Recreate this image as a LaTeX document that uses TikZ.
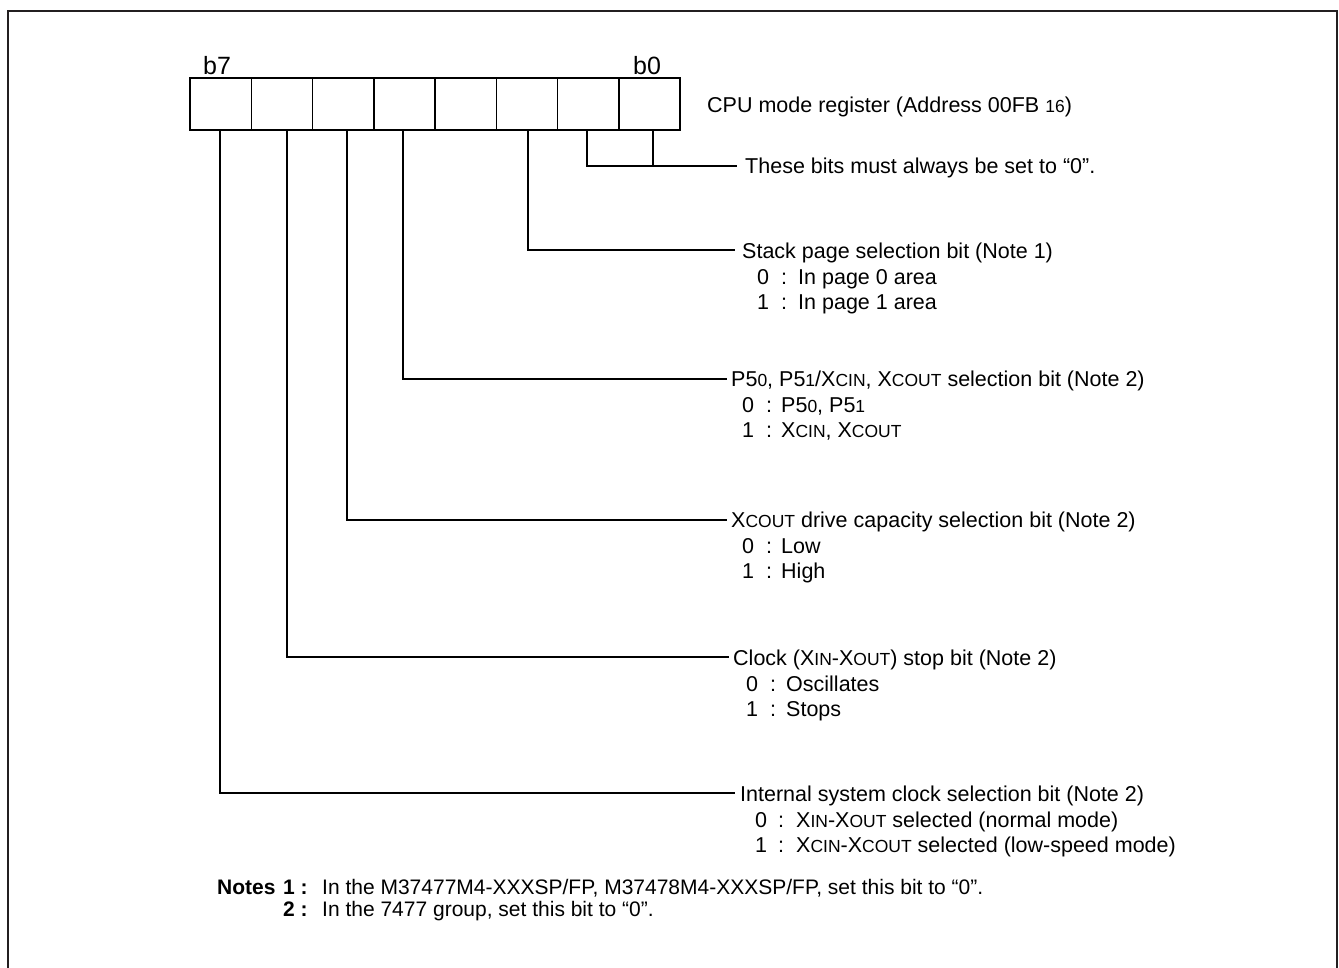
\documentclass[tikz,border=0pt]{standalone}
\usepackage{fontspec}
\setmainfont{Liberation Sans}
\newcommand\body{\fontsize{21.5}{25.5}\selectfont}
\newcommand\smc[1]{{\fontsize{17.5}{17.5}\selectfont #1}}
\definecolor{framecol}{HTML}{231F20}
\tikzset{
  cell/.style={draw, line width=1.5pt, minimum width=61.25pt, minimum height=52pt, inner sep=0pt, outer sep=0pt},
  lbl/.style={anchor=base west, inner sep=0pt, font=\body},
  bitlbl/.style={anchor=base west, inner sep=0pt, font=\fontsize{25}{25}\selectfont},
  notelbl/.style={anchor=base west, inner sep=0pt, font=\fontsize{21}{24}\selectfont},
  conn/.style={line width=1.4pt},
}
\begin{document}
\begin{tikzpicture}[x=1pt,y=-1pt]
\useasboundingbox (0,0) rectangle (1339,967);
% frame
\draw[line width=2pt, color=framecol] (8,990) -- (8,11) -- (1337,11) -- (1337,990);
% register cells
\foreach \i/\n in {0/7,1/6,2/5,3/4,4/3,5/2,6/1,7/0} {
  \node[cell] (c\n) at ({190+61.25*\i+30.625},104) {};
}
\node[bitlbl] (b7) at (203,74) {b7};
\node[bitlbl] (b0) at (633,74) {b0};
\node[lbl] (title) at (707,112) {CPU mode register (Address 00FB \smc{16})};
% connector start points on the bottom of the cells
\coordinate (s0) at (653,130);
\coordinate (s1) at (587,130);
\coordinate (s2) at (528,130);
\coordinate (s4) at (403,130);
\coordinate (s5) at (347,130);
\coordinate (s6) at (287,130);
\coordinate (s7) at (220,130);
% end points
\coordinate (e0) at (737,166);
\coordinate (e2) at (735,250);
\coordinate (e4) at (727,379);
\coordinate (e5) at (727,520);
\coordinate (e6) at (729,657);
\coordinate (e7) at (735,793);
% labels
\node[lbl] (t0) at (745,173.5) {These bits must always be set to “0”.};
\node[lbl] (t2) at (742,258) {Stack page selection bit (Note 1)};
\node[lbl] (t2a) at (757,284) {0}; \node[lbl] (t2ac) at (781,284) {:}; \node[lbl] (t2at) at (798,284) {In page 0 area};
\node[lbl] (t2b) at (757,309) {1}; \node[lbl] (t2bc) at (781,309) {:}; \node[lbl] (t2bt) at (798,309) {In page 1 area};
\node[lbl] (t4) at (731,386.5) {P5\smc{0}, P5\smc{1}/X\smc{CIN}, X\smc{COUT} selection bit (Note 2)};
\node[lbl] (t4a) at (742,412) {0}; \node[lbl] (t4ac) at (766,412) {:}; \node[lbl] (t4at) at (781,412) {P5\smc{0}, P5\smc{1}};
\node[lbl] (t4b) at (742,437) {1}; \node[lbl] (t4bc) at (766,437) {:}; \node[lbl] (t4bt) at (781,437) {X\smc{CIN}, X\smc{COUT}};
\node[lbl] (t5) at (731,527.5) {X\smc{COUT} drive capacity selection bit (Note 2)};
\node[lbl] (t5a) at (742,553) {0}; \node[lbl] (t5ac) at (766,553) {:}; \node[lbl] (t5at) at (781,553) {Low};
\node[lbl] (t5b) at (742,578) {1}; \node[lbl] (t5bc) at (766,578) {:}; \node[lbl] (t5bt) at (781,578) {High};
\node[lbl] (t6) at (733,665) {Clock (X\smc{IN}-X\smc{OUT}) stop bit (Note 2)};
\node[lbl] (t6a) at (746,691) {0}; \node[lbl] (t6ac) at (770,691) {:}; \node[lbl] (t6at) at (786,691) {Oscillates};
\node[lbl] (t6b) at (746,716) {1}; \node[lbl] (t6bc) at (770,716) {:}; \node[lbl] (t6bt) at (786,716) {Stops};
\node[lbl] (t7) at (740,801) {Internal system clock selection bit (Note 2)};
\node[lbl] (t7a) at (755,827) {0}; \node[lbl] (t7ac) at (778,827) {:}; \node[lbl] (t7at) at (796,827) {X\smc{IN}-X\smc{OUT} selected (normal mode)};
\node[lbl] (t7b) at (755,852) {1}; \node[lbl] (t7bc) at (778,852) {:}; \node[lbl] (t7bt) at (796,852) {X\smc{CIN}-X\smc{COUT} selected (low-speed mode)};
% connectors
\draw[conn] (s1) |- (e0);
\draw[conn] (s0) -- (s0 |- e0);
\draw[conn] (s2) |- (e2);
\draw[conn] (s4) |- (e4);
\draw[conn] (s5) |- (e5);
\draw[conn] (s6) |- (e6);
\draw[conn] (s7) |- (e7);
% notes
\node[notelbl] (nh) at (217,894) {\bfseries Notes};
\node[notelbl] (n1) at (283,894) {\bfseries 1 :};
\node[notelbl] (n1t) at (322,894) {In the M37477M4-XXXSP/FP, M37478M4-XXXSP/FP, set this bit to “0”.};
\node[notelbl] (n2) at (283,916) {\bfseries 2 :};
\node[notelbl] (n2t) at (322,916) {In the 7477 group, set this bit to “0”.};
\end{tikzpicture}
\end{document}
